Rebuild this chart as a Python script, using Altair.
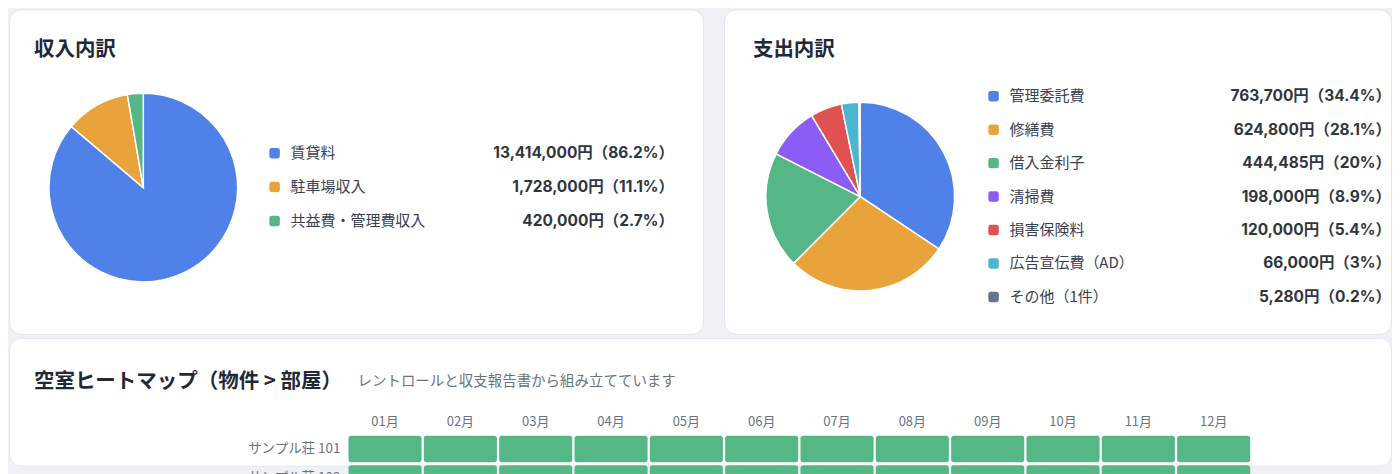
import altair as alt
import pandas as pd

FONT = "Noto Sans CJK JP"
NUM_FONT = "Inter, 'Noto Sans CJK JP'"

# ---- data ----
income_labels = ["賃貸料", "駐車場収入", "共益費・管理費収入"]
income_values = [13414000, 1728000, 420000]
income_colors = ["#4f81e9", "#e9a33b", "#55b686"]

expense_labels = ["管理委託費", "修繕費", "借入金利子", "清掃費", "損害保険料", "広告宣伝費（AD）", "その他（1件）"]
expense_values = [763700, 624800, 444485, 198000, 120000, 66000, 5280]
expense_colors = ["#4f81e9", "#e9a33b", "#55b686", "#8b5cf6", "#e05252", "#4cb5d0", "#64748b"]

months = ["01月", "02月", "03月", "04月", "05月", "06月", "07月", "08月", "09月", "10月", "11月", "12月"]
rooms = ["サンプル荘 101", "サンプル荘 102"]
room101_status = ["入居中"] * 12
room102_status = ["入居中"] * 12

ROUND_SQ = ("M -0.55 -1 L 0.55 -1 Q 1 -1 1 -0.55 L 1 0.55 Q 1 1 0.55 1 "
            "L -0.55 1 Q -1 1 -1 0.55 L -1 -0.55 Q -1 -1 -0.55 -1 Z")

CARD = alt.ViewBackground(fill="white", stroke="#e2e5eb", strokeWidth=1, cornerRadius=12)


def value_label(v, total):
    p = f"{round(v / total * 100, 1):.1f}".rstrip("0").rstrip(".")
    return f"{v:,}円（{p}%）"


def breakdown_card(title, labels, values, colors, width, height, cx, cy, r,
                   title_x, sw_x, lab_x, val_x, y0, y1, key):
    total = sum(values)
    fld = f"項目{key}"
    df = pd.DataFrame({
        fld: labels,
        "金額": values,
        "順": list(range(len(labels))),
        "表示": [value_label(v, total) for v in values],
    })
    base = alt.Chart(df)
    color = alt.Color(f"{fld}:N", scale=alt.Scale(domain=labels, range=colors), legend=None)
    yenc = alt.Y(f"{fld}:N", scale=alt.Scale(type="point", domain=labels, range=[y0, y1], padding=0), axis=None)

    pie = base.mark_arc(x=cx, y=cy, radius=r, stroke="white", strokeWidth=1.5).encode(
        theta=alt.Theta("金額:Q", stack=True),
        color=color,
        order=alt.Order("順:Q"),
    )
    sw = base.mark_point(shape=ROUND_SQ, filled=True, size=110, opacity=1, x=sw_x).encode(
        y=yenc, color=color)
    lab = base.mark_text(align="left", baseline="middle", x=lab_x, font=FONT,
                         fontSize=15, color="#374151").encode(y=yenc, text=f"{fld}:N")
    val = base.mark_text(align="right", baseline="middle", x=val_x, font=NUM_FONT,
                         fontSize=15.5, fontWeight="bold", color="#2f3640").encode(y=yenc, text="表示:N")
    ttl = alt.Chart(pd.DataFrame({"t": [title]})).mark_text(
        align="left", baseline="alphabetic", x=title_x, y=47, font=FONT,
        fontSize=20.5, fontWeight="bold", color="#1f2937").encode(text="t:N")
    return alt.layer(pie, sw, lab, val, ttl).properties(width=width, height=height, view=CARD)


card1 = breakdown_card("収入内訳", income_labels, income_values, income_colors,
                       695, 325, 134.5, 178.5, 94.5, 25, 266, 282, 666, 144, 212, "A")
card2 = breakdown_card("支出内訳", expense_labels, expense_values, expense_colors,
                       668, 325, 136.5, 187.5, 94.5, 29, 270, 286, 668, 87, 288, "B")

# ---- heatmap card ----
hm = pd.DataFrame({
    "部屋": [rooms[0]] * 12 + [rooms[1]] * 12,
    "月": months + months,
    "状態": room101_status + room102_status,
})
mdf = pd.DataFrame({"月": months})
rdf = pd.DataFrame({"部屋": rooms})

xenc = alt.X("月:O", scale=alt.Scale(domain=months, range=[340, 1243], paddingInner=0.03, paddingOuter=0), axis=None)
yenc = alt.Y("部屋:O", scale=alt.Scale(domain=rooms, range=[98, 154], paddingInner=0.1, paddingOuter=0), axis=None)

cells = alt.Chart(hm).mark_rect(cornerRadius=2.5).encode(
    x=xenc, y=yenc,
    color=alt.Color("状態:N", scale=alt.Scale(domain=["入居中", "空室"], range=["#55b686", "#e5e7eb"]), legend=None),
)
mlab = alt.Chart(mdf).mark_text(baseline="alphabetic", y=88, font=FONT, fontSize=13, color="#6b7280").encode(
    x=xenc, text="月:N")
rlab = alt.Chart(rdf).mark_text(align="right", baseline="middle", x=332, font=FONT, fontSize=13.5, color="#6b7280").encode(
    y=yenc, text="部屋:N")
htitle = alt.Chart(pd.DataFrame({"t": ["空室ヒートマップ（物件 > 部屋）"]})).mark_text(
    align="left", baseline="alphabetic", x=25, y=50, font=FONT, fontSize=20.5,
    fontWeight="bold", color="#1f2937").encode(text="t:N")
hsub = alt.Chart(pd.DataFrame({"t": ["レントロールと収支報告書から組み立てています"]})).mark_text(
    align="left", baseline="alphabetic", x=349, y=48, font=FONT, fontSize=14.5,
    color="#6b7280").encode(text="t:N")

card3 = alt.layer(cells, mlab, rlab, htitle, hsub).properties(width=1384, height=128, view=CARD)

top = alt.hconcat(card1, card2, spacing=21, bounds="flush").resolve_scale(color="independent", y="independent")
chart = alt.vconcat(top, card3, spacing=2).resolve_scale(
    color="independent", x="independent", y="independent"
).properties(
    padding=0, background="#eff1f5"
)

chart.save("out.html", embed_options={"renderer": "svg", "actions": False})
